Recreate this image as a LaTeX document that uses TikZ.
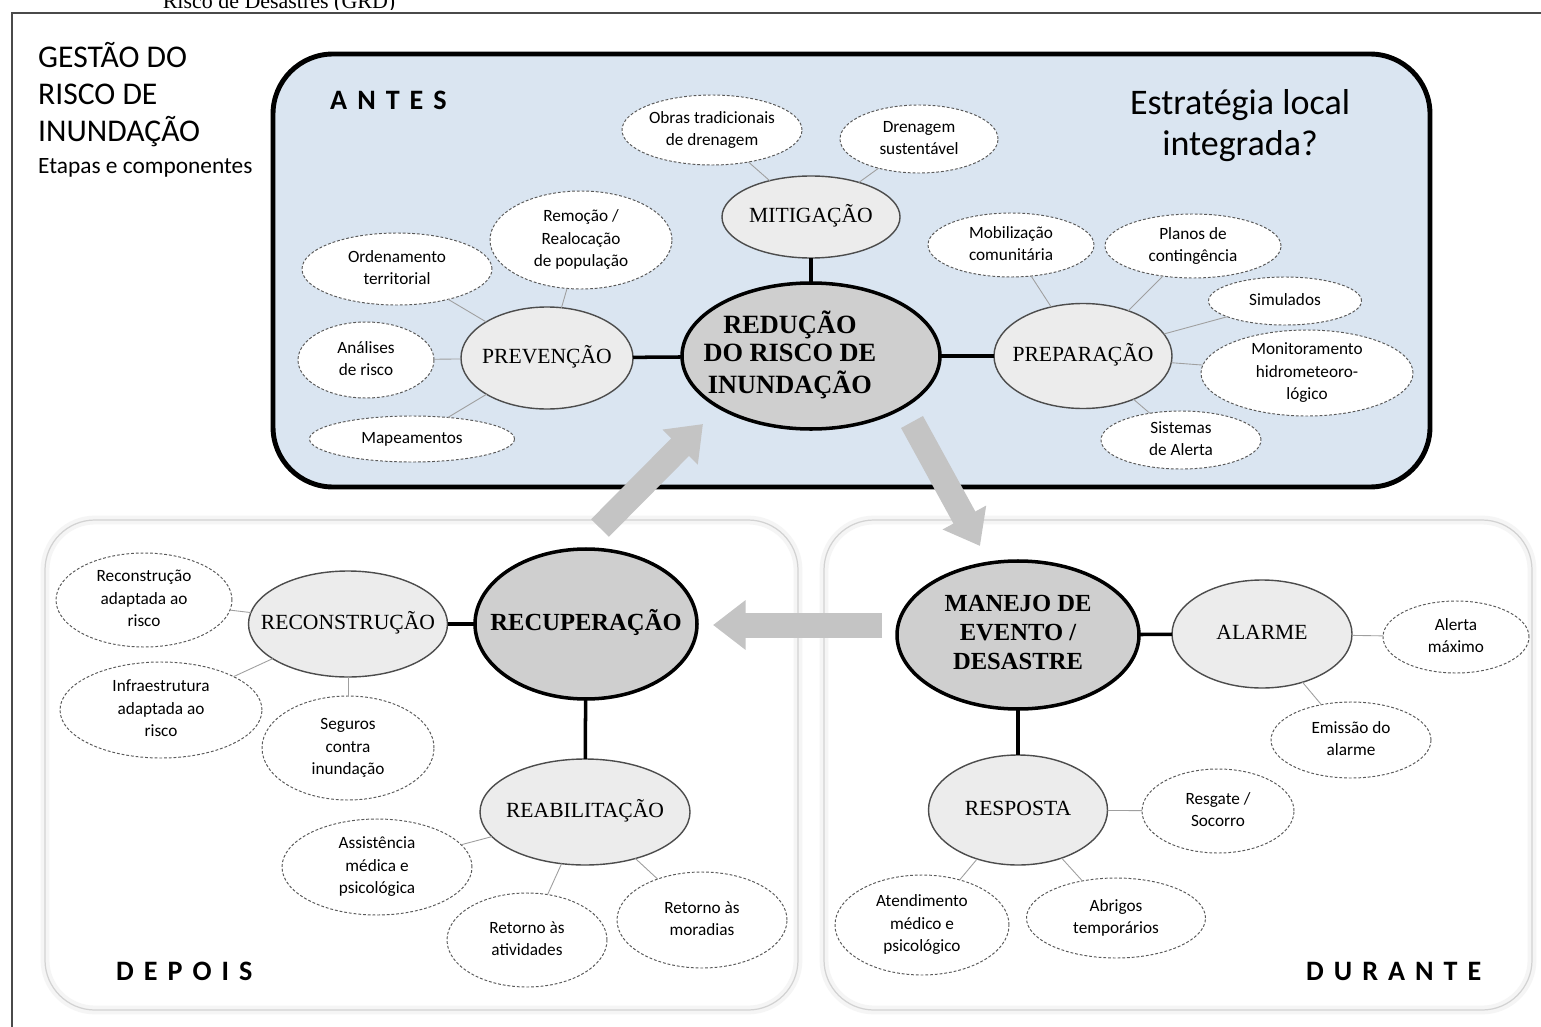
\documentclass[tikz,border=0pt]{standalone}
\usepackage{fontspec}
\setmainfont{Liberation Serif}
\newfontfamily\calib{Carlito}
\usetikzlibrary{shapes.geometric,arrows.meta}
\definecolor{antesblue}{HTML}{DAE5F1}
\definecolor{coregray}{HTML}{CFCFCF}
\definecolor{stagegray}{HTML}{ECECEC}
\definecolor{bigarrow}{HTML}{C4C4C4}
\definecolor{framegray}{HTML}{4A4A4A}
\newcommand\zb[2][0pt]{\makebox[0pt]{\hspace*{#1}\raisebox{-0.25em}{\begin{tabular}{@{}c@{}}#2\end{tabular}}\hspace*{-#1}}}
\newcommand\spc{\kern5.7pt}
\begin{document}
\begin{tikzpicture}[x=0.02cm,y=-0.02cm,
  sz/.style 2 args={minimum width={#1*0.02cm},minimum height={#2*0.02cm}},
  ell/.style={ellipse,inner sep=0pt,outer sep=0pt,text height=0pt,text depth=0pt},
  core/.style={ell,fill=coregray,draw=black,line width=2pt,font=\fontsize{15}{16.3}\selectfont\bfseries},
  stage/.style={ell,fill=stagegray,draw=black!70,line width=0.8pt,font=\fontsize{12.3}{14}\selectfont},
  item/.style={ell,fill=white,draw=black!65,line width=0.55pt,dash pattern=on 1.6pt off 1.1pt,font=\calib\fontsize{9.8}{12.8}\selectfont},
  thinlink/.style={draw=gray!75,line width=0.5pt},
  thicklink/.style={draw=black,line width=2pt},
  bigarr/.style={draw=bigarrow,fill=bigarrow,line width=0.5cm,-{Triangle[width=0.95cm,length=0.65cm]}},
  panel/.style={rounded corners=1cm},
  title/.style={anchor=base west,font=\calib\fontsize{18}{21}\selectfont},
  phase/.style={anchor=base west,font=\calib\bfseries\fontsize{16}{19}\selectfont},
  strat/.style={anchor=base,font=\calib\fontsize{20.5}{22}\selectfont}
]
\useasboundingbox (0,0) rectangle (1541,1027);
\fill[white] (0,0) rectangle (1541,1027);

% caption (cut off at the top, as in the source)
\node[anchor=base,font=\fontsize{12.5}{14}\selectfont] (cap) at (279,9) {Risco de Desastres (GRD)};
\fill[white] (0,10.5) rectangle (1541,13);
\draw[framegray,line width=1.2pt] (12,1027) -- (12,13) -- (1541,13);

% panels
\draw[panel,gray!8,line width=5pt] (45,520) rectangle (798,1010);
\draw[panel,gray!35,line width=0.7pt] (45,520) rectangle (798,1010);
\draw[panel,gray!8,line width=5pt] (824,520) rectangle (1532,1010);
\draw[panel,gray!35,line width=0.7pt] (824,520) rectangle (1532,1010);
\draw[fill=antesblue,line width=2.8pt,rounded corners=1.2cm] (273,54) rectangle (1430,487);

% titles
\node[title] (t1) at (32,68) {GESTÃO DO};
\node[title] (t2) at (32,105) {RISCO DE};
\node[title] (t3) at (32,142) {INUNDAÇÃO};
\node[anchor=base west,font=\calib\fontsize{13.3}{16}\selectfont] (t4) at (32,174) {Etapas e componentes};
\node[phase] (antes) at (324,110) {A\spc N\spc T\spc E\spc S};
\node[phase] (depois) at (110,980) {D\spc E\spc P\spc O\spc I\spc S};
\node[phase] (durante) at (1300,980) {D\spc U\spc R\spc A\spc N\spc T\spc E};
\node[strat] (estr1) at (1240,115) {Estratégia local};
\node[strat] (estr2) at (1240,156) {integrada?};

% ANTES
\node[core,sz={258}{146}] (red) at (811,356) {\zb[-12pt]{REDUÇÃO\\DO RISCO DE\\INUNDAÇÃO}};
\node[stage,sz={178}{82}] (mit) at (811,217) {\zb{MITIGAÇÃO}};
\node[stage,sz={172}{102}] (prev) at (547,358) {\zb{PREVENÇÃO}};
\node[stage,sz={178}{105}] (prep) at (1083,356) {\zb{PREPARAÇÃO}};
\node[item,sz={180}{70}] (obras) at (712,130) {\zb{Obras tradicionais\\de drenagem}};
\node[item,sz={158}{68}] (dren) at (919,139) {\zb{Drenagem\\sustentável}};
\node[item,sz={182}{98}] (remo) at (581,240) {\zb{Remoção /\\Realocação\\de população}};
\node[item,sz={190}{72}] (orde) at (397,269) {\zb{Ordenamento\\territorial}};
\node[item,sz={136}{76}] (anal) at (366,360) {\zb{Análises\\de risco}};
\node[item,sz={205}{46}] (mapa) at (412,439) {\zb{Mapeamentos}};
\node[item,sz={166}{64}] (mobi) at (1011,245) {\zb{Mobilização\\comunitária}};
\node[item,sz={176}{64}] (plan) at (1193,246) {\zb{Planos de\\contingência}};
\node[item,sz={153}{48}] (simu) at (1285,301) {\zb{Simulados}};
\node[item,sz={212}{86}] (moni) at (1307,373) {\zb{Monitoramento\\hidrometeoro-\\lógico}};
\node[item,sz={160}{58}] (sist) at (1181,440) {\zb{Sistemas\\de Alerta}};

\draw[thicklink] (mit) -- (red);
\draw[thicklink] (prev) -- (red);
\draw[thicklink] (prep) -- (red);
\draw[thinlink] (mit) -- (obras);
\draw[thinlink] (mit) -- (dren);
\draw[thinlink] (prev) -- (remo);
\draw[thinlink] (prev) -- (orde);
\draw[thinlink] (prev) -- (anal);
\draw[thinlink] (prev) -- (mapa);
\draw[thinlink] (prep) -- (mobi);
\draw[thinlink] (prep) -- (plan);
\draw[thinlink] (prep) -- (simu);
\draw[thinlink] (prep) -- (moni);
\draw[thinlink] (prep) -- (sist);

% DEPOIS
\node[core,sz={222}{150},font=\fontsize{14}{16.5}\selectfont\bfseries] (recup) at (586,624) {\zb{RECUPERAÇÃO}};
\node[stage,sz={199}{106}] (recon) at (348,624) {\zb{RECONSTRUÇÃO}};
\node[stage,sz={210}{106}] (reab) at (585,812) {\zb{REABILITAÇÃO}};
\node[item,sz={176}{94}] (rad) at (144,600) {\zb{Reconstrução\\adaptada ao\\risco}};
\node[item,sz={202}{96}] (infra) at (161,710) {\zb{Infraestrutura\\adaptada ao\\risco}};
\node[item,sz={172}{104}] (seg) at (348,748) {\zb{Seguros\\contra\\inundação}};
\node[item,sz={190}{96}] (assi) at (377,867) {\zb{Assistência\\médica e\\psicológica}};
\node[item,sz={160}{94}] (ratv) at (527,940) {\zb{Retorno às\\atividades}};
\node[item,sz={170}{96}] (rmor) at (702,920) {\zb{Retorno às\\moradias}};

\draw[thicklink] (recon) -- (recup);
\draw[thicklink] (recup) -- (reab);
\draw[thinlink] (recon) -- (rad);
\draw[thinlink] (recon) -- (infra);
\draw[thinlink] (recon) -- (seg);
\draw[thinlink] (reab) -- (assi);
\draw[thinlink] (reab) -- (ratv);
\draw[thinlink] (reab) -- (rmor);

% DURANTE
\node[core,sz={242}{148},font=\fontsize{14}{16.5}\selectfont\bfseries] (manejo) at (1018,635) {\zb{MANEJO DE\\EVENTO /\\DESASTRE}};
\node[stage,sz={180}{108}] (alarme) at (1262,634) {\zb{ALARME}};
\node[stage,sz={179}{110}] (resp) at (1018,810) {\zb{RESPOSTA}};
\node[item,sz={146}{72}] (alerta) at (1456,637) {\zb{Alerta\\máximo}};
\node[item,sz={160}{76}] (emis) at (1351,740) {\zb{Emissão do\\alarme}};
\node[item,sz={152}{84}] (resg) at (1218,811) {\zb{Resgate /\\Socorro}};
\node[item,sz={174}{100}] (aten) at (922,925) {\zb{Atendimento\\médico e\\psicológico}};
\node[item,sz={179}{80}] (abri) at (1116,918) {\zb{Abrigos\\temporários}};

\draw[thicklink] (manejo) -- (alarme);
\draw[thicklink] (manejo) -- (resp);
\draw[thinlink] (alarme) -- (alerta);
\draw[thinlink] (alarme) -- (emis);
\draw[thinlink] (resp) -- (resg);
\draw[thinlink] (resp) -- (aten);
\draw[thinlink] (resp) -- (abri);

% cycle arrows
\coordinate (a1s) at (600,528);
\coordinate (a1e) at (703,424);
\coordinate (a2s) at (912,422);
\coordinate (a2e) at (980,546);
\coordinate (a3s) at (882,625);
\coordinate (a3e) at (713,625);
\draw[bigarr] (a1s) -- (a1e);
\draw[bigarr] (a2s) -- (a2e);
\draw[bigarr] (a3s) -- (a3e);
\end{tikzpicture}
\end{document}
